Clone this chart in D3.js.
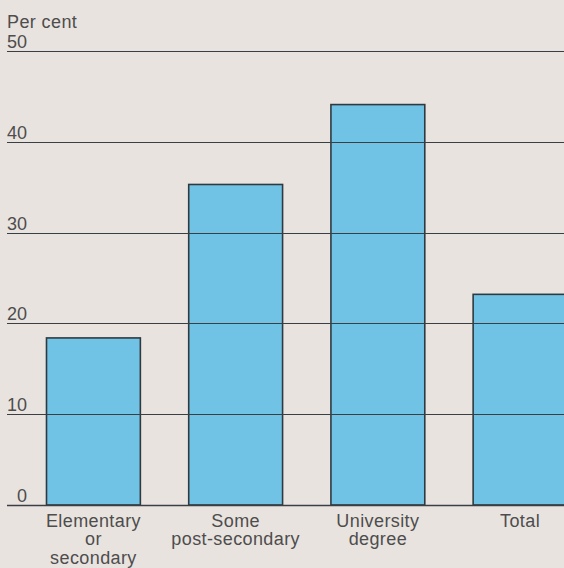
<!DOCTYPE html>
<html>
<head>
<meta charset="utf-8">
<script src="https://cdn.jsdelivr.net/npm/d3@7"></script>
<style>
  html, body { margin: 0; padding: 0; background: #e9e3df; }
  svg { display: block; }
  text { font-family: "Liberation Sans", Arial, Helvetica, sans-serif; fill: #4d4d4d; }
</style>
</head>
<body>
<svg id="chart" width="564" height="568"></svg>
<script>
const categories = [
  ["Elementary", "or", "secondary"],
  ["Some", "post-secondary"],
  ["University", "degree"],
  ["Total"]
];
const categoryKeys = ["Elementary or secondary", "Some post-secondary", "University degree", "Total"];
const values = [18.4, 35.3, 44.1, 23.2];
const tickValues = [0, 10, 20, 30, 40, 50];
const yTitle = "Per cent";

const W = 564, H = 568;
const svg = d3.select("#chart");

svg.append("rect").attr("width", W).attr("height", H).attr("fill", "#e9e3df");

const y = d3.scaleLinear().domain([0, 50]).range([505, 51]);
const x = d3.scaleBand().domain(categoryKeys).range([46.5, 567]).paddingInner(0.34).paddingOuter(0);

// bars
svg.append("g").selectAll("rect")
  .data(values)
  .join("rect")
  .attr("x", (d, i) => x(categoryKeys[i]))
  .attr("y", d => y(d))
  .attr("width", x.bandwidth())
  .attr("height", d => y(0) - y(d))
  .attr("fill", "#70c3e5")
  .attr("stroke", "#2f3a40")
  .attr("stroke-width", 1.6);

// gridlines over bars
svg.append("g").selectAll("line")
  .data(tickValues)
  .join("line")
  .attr("x1", 7).attr("x2", W)
  .attr("y1", d => Math.round(y(d)) + 0.5)
  .attr("y2", d => Math.round(y(d)) + 0.5)
  .attr("stroke", "#3a3f44")
  .attr("stroke-width", d => d === 0 ? 1.4 : 1.1);

// tick labels
svg.append("g").selectAll("text")
  .data(tickValues)
  .join("text")
  .attr("x", 27)
  .attr("y", d => y(d) - 3)
  .attr("text-anchor", "end")
  .attr("font-size", 18)
  .text(d => d);

// y title
svg.append("text")
  .attr("x", 7).attr("y", 27.5)
  .attr("font-size", 18)
  .attr("letter-spacing", 0.4)
  .text(yTitle);

// category labels
const lab = svg.append("g").selectAll("text")
  .data(categories)
  .join("text")
  .attr("text-anchor", "middle")
  .attr("font-size", 18)
  .attr("letter-spacing", 0.4)
  .attr("transform", (d, i) => `translate(${x(categoryKeys[i]) + x.bandwidth() / 2},527)`);
lab.selectAll("tspan")
  .data(d => d)
  .join("tspan")
  .attr("x", 0)
  .attr("y", (d, j) => j * 18.3)
  .text(d => d);
</script>
</body>
</html>
